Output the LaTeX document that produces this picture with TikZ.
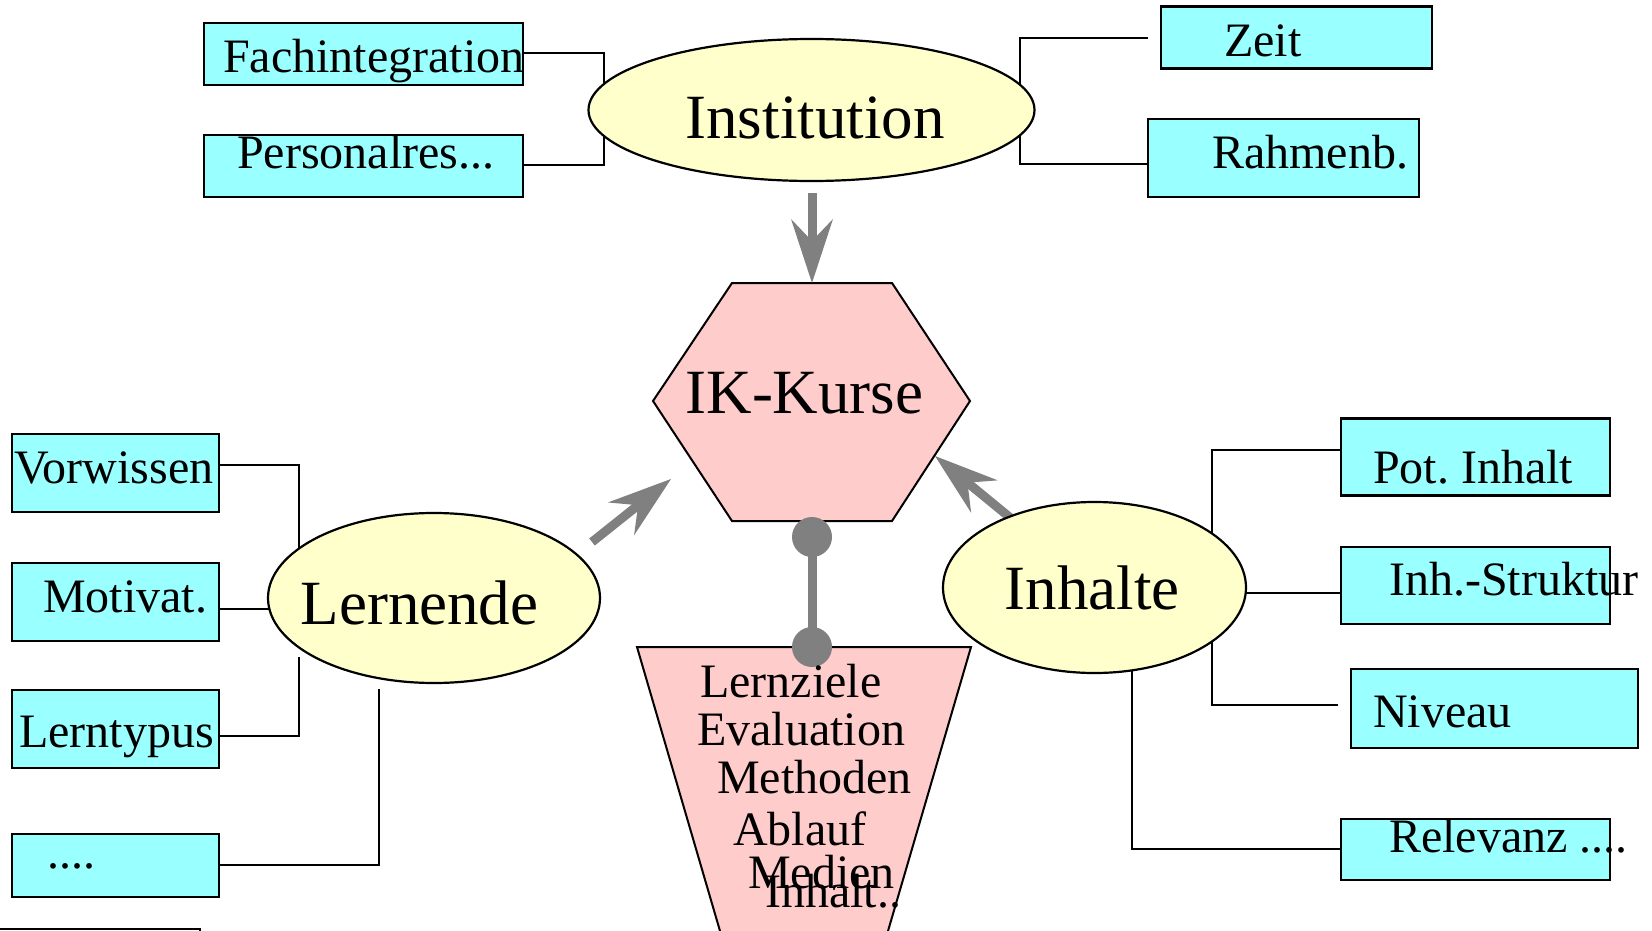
\documentclass[tikz,border=0pt]{standalone}
\usepackage{fontspec}
\setmainfont{Liberation Serif}
\usetikzlibrary{arrows.meta,shapes.geometric}
\definecolor{boxc}{HTML}{99FFFF}
\definecolor{ellc}{HTML}{FFFFCC}
\definecolor{pinkc}{HTML}{FFCCCC}
\definecolor{arrc}{HTML}{808080}
\frenchspacing
\begin{document}
\begin{tikzpicture}[x=1pt,y=-1pt,
  box/.style={draw=black, line width=2.2pt, fill=boxc, rectangle, inner sep=0pt},
  ell/.style={draw=black, line width=2.2pt, fill=ellc, ellipse, inner sep=0pt},
  big/.style={font=\fontsize{63}{63}\selectfont, inner sep=0pt, anchor=base},
  small/.style={font=\fontsize{48}{48}\selectfont, inner sep=0pt, anchor=base west},
  conn/.style={draw=black, line width=1.8pt},
  shapeline/.style={draw=black, line width=2pt},
  fat/.style={draw=arrc, line width=9pt, -{Stealth[length=64pt,width=42pt,inset=22pt,line width=0pt]}},
  dot/.style={circle, fill=arrc, minimum size=40pt, inner sep=0pt}
]
\useasboundingbox (0,0) rectangle (1652,931);

% ---------- boxes ----------
\node[box, minimum width=319pt, minimum height=62pt] (fach) at (363.5,54) {};
\node[box, minimum width=319pt, minimum height=62pt] (pers) at (363.5,166) {};
\node[box, minimum width=271pt, minimum height=62pt] (zeit) at (1296.5,37.5) {};
\node[box, minimum width=271pt, minimum height=78pt] (rahmen) at (1283.5,158) {};
\node[box, minimum width=207pt, minimum height=78pt] (vor) at (115.5,473) {};
\node[box, minimum width=207pt, minimum height=78pt] (mot) at (115.5,602) {};
\node[box, minimum width=207pt, minimum height=78pt] (lt) at (115.5,729) {};
\node[box, minimum width=207pt, minimum height=63pt] (dots) at (115.5,865.5) {};
\node[box, minimum width=269pt, minimum height=77pt] (pot) at (1475.5,457) {};
\node[box, minimum width=269pt, minimum height=77pt] (istr) at (1475.5,585.5) {};
\node[box, minimum width=287pt, minimum height=79pt] (niv) at (1494.5,708.5) {};
\node[box, minimum width=269pt, minimum height=61pt] (rel) at (1475.5,849.5) {};

% ---------- ellipse anchors (for connectors) ----------
\coordinate (instc) at (811.5,110);
\coordinate (lernc) at (434,598);
\coordinate (inhc) at (1094.5,587.5);

% ---------- connectors ----------
\coordinate (jFa) at (604,53);
\coordinate (jPe) at (604,165);
\draw[conn] (jFa -| fach.east) -- (jFa) -- (jPe) -- (jPe -| pers.east);

\coordinate (zEnd) at (1148,38);
\coordinate (jZe) at (1020,38);
\coordinate (jRa) at (1020,164);
\draw[conn] (zEnd) -- (jZe) -- (jRa) -- (jRa -| rahmen.west);

\coordinate (jVo) at (299,465);
\draw[conn] (jVo -| vor.east) -- (jVo) -- (jVo |- lernc);
\coordinate (jMo) at (300,609);
\draw[conn] (jMo -| mot.east) -- (jMo);
\coordinate (jLt) at (299,736);
\coordinate (eLt) at (299,657);
\draw[conn] (jLt -| lt.east) -- (jLt) -- (eLt);
\coordinate (jDo) at (379,865);
\coordinate (eDo) at (379,689);
\draw[conn] (jDo -| dots.east) -- (jDo) -- (eDo);

\coordinate (jPo) at (1212,450);
\draw[conn] (jPo -| pot.west) -- (jPo) -- (jPo |- inhc);
\coordinate (jIs) at (1200,593);
\draw[conn] (jIs) -- (jIs -| istr.west);
\coordinate (jNi) at (1212,705);
\coordinate (nEnd) at (1338,705);
\draw[conn] (nEnd) -- (jNi) -- (jNi |- inhc);
\coordinate (jRe) at (1132,849);
\draw[conn] (jRe -| rel.west) -- (jRe) -- (jRe |- inhc);

\coordinate (bl1) at (0,929);
\coordinate (bl2) at (200,929);
\draw[line width=2.2pt] (bl1) -- (bl2) -- ++(0,5);

% ---------- hexagon ----------
\coordinate (h1) at (732,283);
\coordinate (h2) at (892,283);
\coordinate (h3) at (970,401);
\coordinate (h4) at (892,521);
\coordinate (h5) at (732,521);
\coordinate (h6) at (653,401);
\draw[shapeline, fill=pinkc] (h1) -- (h2) -- (h3) -- (h4) -- (h5) -- (h6) -- cycle;

% ---------- trapezoid ----------
\coordinate (t1) at (637,647);
\coordinate (t2) at (971,647);
\coordinate (t3) at (888,931);
\coordinate (t4) at (720,931);
\fill[pinkc] (t1) -- (t2) -- (t3) -- (t4) -- cycle;
\draw[shapeline] (t4) -- (t1) -- (t2) -- (t3);

% ---------- arrows ----------
\coordinate (aI1) at (812,193);
\coordinate (aI2) at (812,283);
\draw[fat] (aI1) -- (aI2);
\coordinate (aL1) at (592,542);
\coordinate (aL2) at (671,479);
\draw[fat] (aL1) -- (aL2);
\coordinate (aH1) at (1013,520);
\coordinate (aH2) at (935,456);
\draw[fat] (aH1) -- (aH2);

% ---------- ellipses ----------
\node[ell, minimum width=446pt, minimum height=142pt] (inst) at (instc) {};
\node[ell, minimum width=332pt, minimum height=170pt] (lern) at (lernc) {};
\node[ell, minimum width=303pt, minimum height=171pt] (inh) at (inhc) {};

% ---------- dumbbell ----------
\node[dot] (d1) at (812,537) {};
\node[dot] (d2) at (812,647) {};
\draw[draw=arrc, line width=9pt] (d1.center) -- (d2.center);

% ---------- big labels ----------
\node[big] (instT) at (815,139) {Institution};
\node[big] (ikT) at (804.5,413) {IK-Kurse};
\node[big] (lernT) at (419.5,624) {Lernende};
\node[big] (inhT) at (1092,609) {Inhalte};

% ---------- small labels ----------
\node[small] (fachT) at (223,73) {Fachintegration};
\node[small] (persT) at (237,168) {Personalres...};
\node[small] (zeitT) at (1224,57) {Zeit};
\node[small] (rahmenT) at (1212,168) {Rahmenb.};
\node[small] (vorT) at (14,483) {Vorwissen};
\node[small] (motT) at (43,612) {Motivat.};
\node[small] (ltT) at (19,747) {Lerntypus};
\node[small] (dotsT) at (47,868) {....};
\node[small] (potT) at (1373,483) {Pot. Inhalt};
\node[small] (istrT) at (1389,595) {Inh.-Struktur};
\node[small] (nivT) at (1373,727) {Niveau};
\node[small] (relT) at (1389,852) {Relevanz ....};

% ---------- trapezoid text ----------
\node[small] (tz1) at (700,697) {Lernziele};
\node[small] (tz2) at (697,745) {Evaluation};
\node[small] (tz3) at (717,793) {Methoden};
\node[small] (tz4) at (733,845) {Ablauf};
\node[small] (tz5) at (748,888) {Medien};
\node[small] (tz6) at (765,907) {Inhalt..};
\end{tikzpicture}
\end{document}
